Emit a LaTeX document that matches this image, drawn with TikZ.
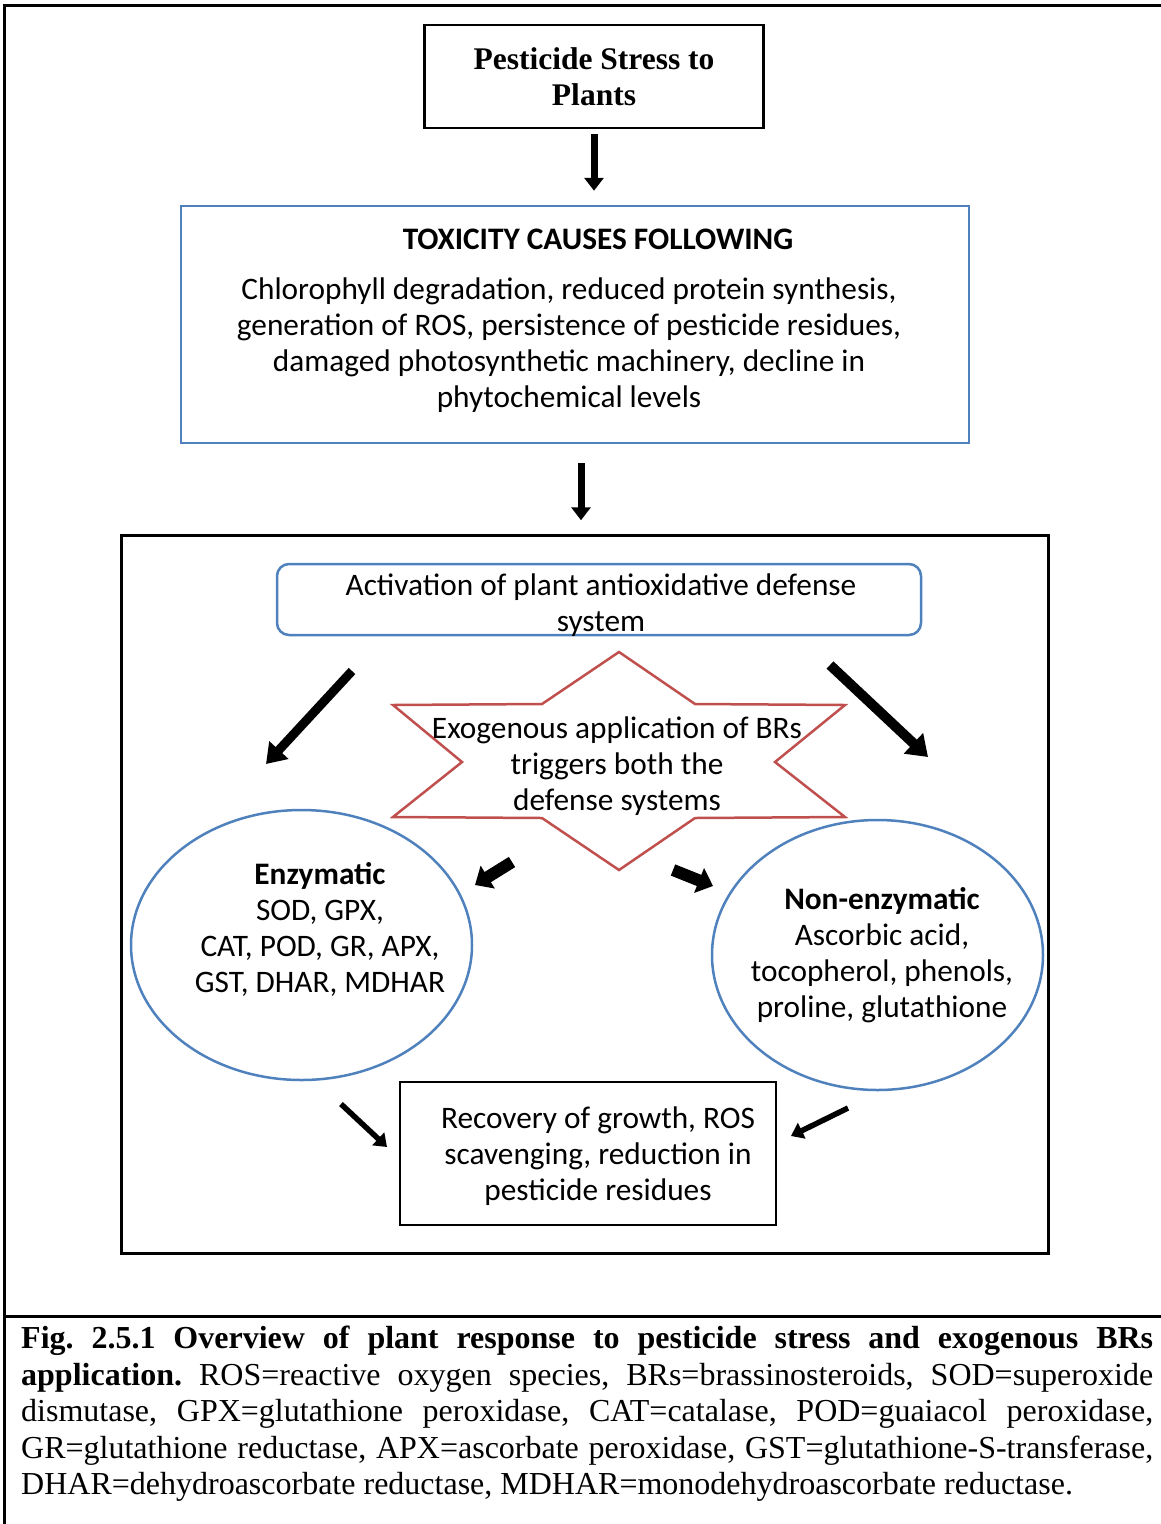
\documentclass[tikz,border=0pt]{standalone}
\usepackage{fontspec}
\setmainfont{Liberation Serif}
\newfontfamily\calib{Carlito}
\usetikzlibrary{arrows.meta,shapes.geometric,positioning}

\definecolor{boxblue}{RGB}{79,129,189}
\definecolor{starred}{RGB}{192,80,77}

\begin{document}
\begin{tikzpicture}[x=1pt,y=-1pt,
 every node/.style={inner sep=0pt,align=center},
 bodytext/.style={font=\calib\fontsize{31.3}{36}\selectfont},
 bluebox/.style={draw=boxblue,line width=2.5pt},
 blackbox/.style={draw=black,line width=2.5pt},
 fatarrow/.style={line width=7pt,-{Triangle[length=13pt,width=19pt]}},
 diagarrow/.style={line width=9pt,-{Triangle[length=19pt,width=25pt]}},
 stubarrow/.style={line width=12pt,-{Triangle[length=15pt,width=26pt]}},
 thinarrow/.style={line width=5.5pt,-{Triangle[length=12pt,width=17pt]}},
]
\useasboundingbox (0,0) rectangle (1161,1524);
% page frame
\draw[line width=3pt] (1161,5) -- (4,5) -- (4,1524);
\draw[line width=3pt] (4,1316) -- (1161,1316);

\node[blackbox,minimum width=339pt,minimum height=103pt,
 font=\bfseries\fontsize{31.5}{36}\selectfont] (stress) at (594,76.5) {Pesticide Stress to\\Plants};

\node[bluebox,minimum width=788pt,minimum height=237pt] (toxic) at (575,324.5) {};
\node[bodytext,font=\calib\bfseries\fontsize{31.3}{36}\selectfont] (toxhead) at (598,239) {TOXICITY CAUSES FOLLOWING};
\node[bodytext] (toxbody) at (569,345) {Chlorophyll degradation, reduced protein synthesis,\\
 generation of ROS, persistence of pesticide residues,\\
 damaged photosynthetic machinery, decline in\\
 phytochemical levels};

\draw[fatarrow] ([yshift=-5pt]stress.south) -- ([yshift=14pt]stress.south |- toxic.north);
\draw[fatarrow] ([xshift=6pt,yshift=-19pt]toxic.south) -- ++(0,57);

% defense frame
\draw[line width=3pt] (121,535) rectangle (1048,1253);

\node[bluebox,rounded corners=12pt,minimum width=644pt,minimum height=71pt] (activ) at (599,599.5) {};
\node[bodytext] (activtext) at (601,605) {Activation of plant antioxidative defense\\system};

\coordinate (brs) at (619,761);
\draw[starred,line width=2.5pt] (619,652) -- (695,704) -- (845,705) -- (775,762) -- (845,817)
 -- (695,818) -- (619,870) -- (542,818) -- (393,817) -- (462,762) -- (393,705) -- (542,704) -- cycle;
\node[bodytext] (brstext) at (617,766) {Exogenous application of BRs\\triggers both the\\defense systems};

\node[bluebox,ellipse,minimum width=341pt,minimum height=270pt] (enz) at (301.5,945) {};
\node[bodytext] (enztext) at (320,929) {\textbf{Enzymatic}\\SOD, GPX,\\CAT, POD, GR, APX,\\GST, DHAR, MDHAR};

\node[bluebox,ellipse,minimum width=331pt,minimum height=270pt] (nonenz) at (877.5,955) {};
\node[bodytext] (nonenztext) at (882,955) {\textbf{Non-enzymatic}\\Ascorbic acid,\\tocopherol, phenols,\\proline, glutathione};

\node[blackbox,minimum width=376pt,minimum height=143pt] (recov) at (588,1153.5) {};
\node[bodytext] (recovtext) at (598,1156) {Recovery of growth, ROS\\scavenging, reduction in\\pesticide residues};

\coordinate (enzin) at (266,764);
\coordinate (nonenzin) at (928,757);
\draw[diagarrow] (352,671) -- (enzin);
\draw[line width=10pt,-{Triangle[length=20pt,width=27pt]}] (830,665) -- (nonenzin);
\coordinate (stubl) at (475,885);
\coordinate (stubr) at (713,886);
\draw[stubarrow] (512,862) -- (stubl);
\draw[stubarrow] (673,870) -- (stubr);
\coordinate (recovl) at (387,1147);
\coordinate (recovr) at (791,1136);
\draw[thinarrow] (341,1104) -- (recovl);
\draw[thinarrow] (848,1108) -- (recovr);

\node[anchor=north west,text width=1132pt,align=justify,
 font=\fontsize{32}{36.5}\selectfont] (caption) at (21,1326) {\frenchspacing\hyphenpenalty=10000\textbf{Fig. 2.5.1 Overview of plant response to pesticide stress and exogenous BRs\linebreak application.} ROS=reactive oxygen species, BRs=brassinosteroids, SOD=superoxide\linebreak dismutase, GPX=glutathione peroxidase, CAT=catalase, POD=guaiacol peroxidase,\linebreak GR=glutathione reductase, APX=ascorbate peroxidase, GST=glutathione-S-transferase,\linebreak DHAR=dehydroascorbate reductase, MDHAR=monodehydroascorbate reductase.};
\end{tikzpicture}
\end{document}
